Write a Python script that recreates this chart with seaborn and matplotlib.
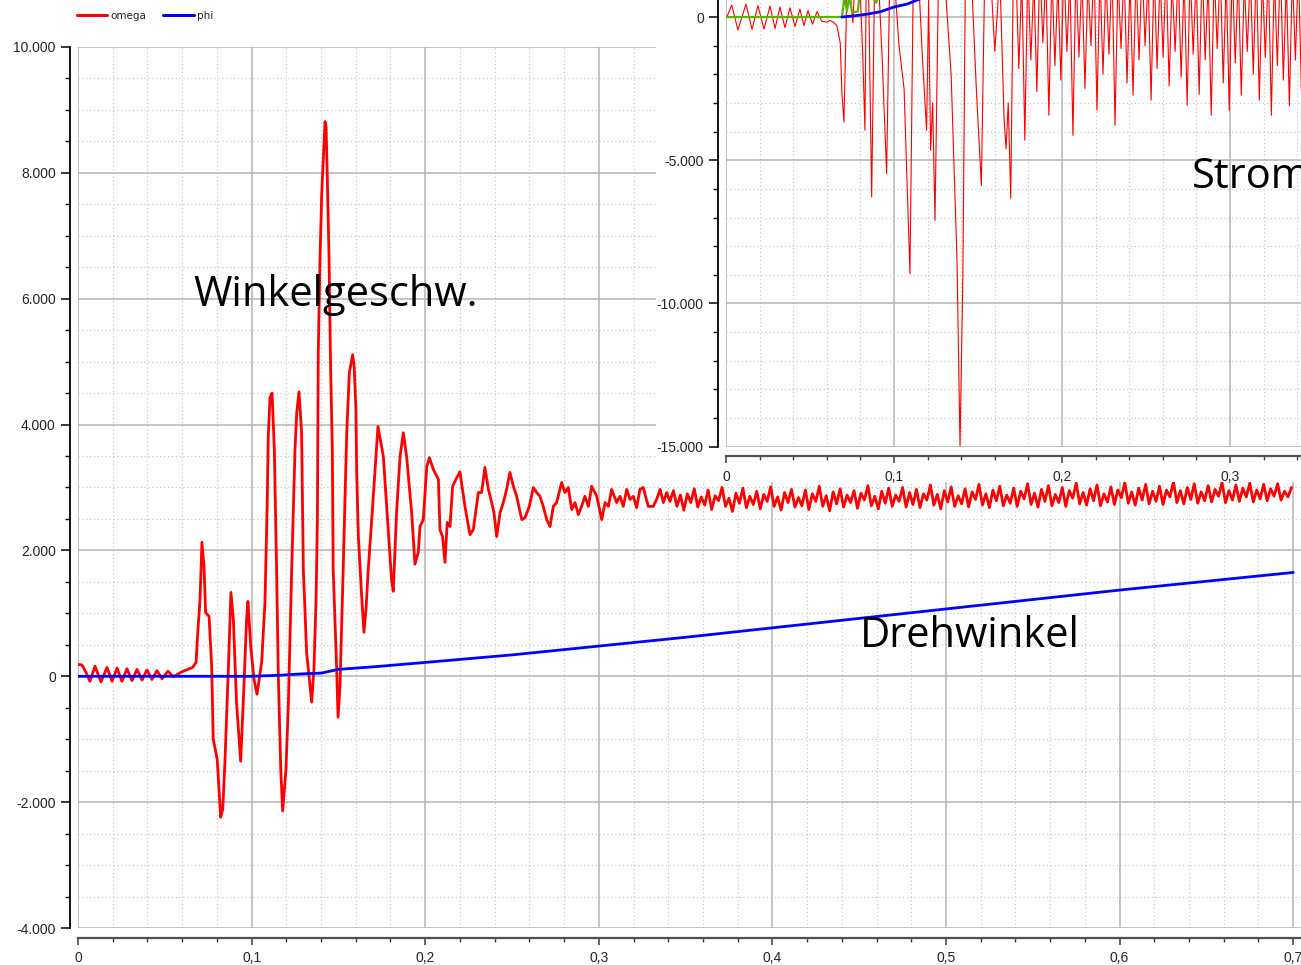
import matplotlib
matplotlib.use("Agg")
import matplotlib.pyplot as plt
import matplotlib.ticker as mticker
from matplotlib.lines import Line2D
from matplotlib.patches import Rectangle
import numpy as np
import pandas as pd
import seaborn as sns

# --- main chart: omega (angular velocity) and phi (angle) over time ---
omega_t = [0.0, 0.0023, 0.0046, 0.0069, 0.0098, 0.0132, 0.0167, 0.0196, 0.0225, 0.0253,
           0.0282, 0.0311, 0.034, 0.0369, 0.0397, 0.0426, 0.0455, 0.0484, 0.0518, 0.0547,
           0.056, 0.0605, 0.066, 0.068, 0.069, 0.0703, 0.0714, 0.0726, 0.0735, 0.0755,
           0.077, 0.0779, 0.0802, 0.0822, 0.0834, 0.0847, 0.0866, 0.0881, 0.0895, 0.0913,
           0.0937, 0.0952, 0.0971, 0.0979, 0.0995, 0.1014, 0.1031, 0.1058, 0.1077, 0.109,
           0.1096, 0.1106, 0.1118, 0.1131, 0.1144, 0.1154, 0.1168, 0.1179, 0.1198, 0.1212,
           0.1231, 0.125, 0.126, 0.1273, 0.1288, 0.1298, 0.1317, 0.1346, 0.1359, 0.1371,
           0.1379, 0.1384, 0.1394, 0.1404, 0.1423, 0.1429, 0.1436, 0.1446, 0.1455, 0.1465,
           0.147, 0.149, 0.1498, 0.1509, 0.1525, 0.1548, 0.1563, 0.1582, 0.1591, 0.1601,
           0.1605, 0.1615, 0.1634, 0.1647, 0.1659, 0.1672, 0.1692, 0.1711, 0.1728, 0.1759,
           0.1787, 0.1806, 0.1816, 0.1835, 0.1855, 0.1874, 0.1893, 0.1922, 0.1941, 0.196,
           0.197, 0.1989, 0.2009, 0.2024, 0.2047, 0.2076, 0.2085, 0.21, 0.2114, 0.2127,
           0.2143, 0.2158, 0.2177, 0.22, 0.2229, 0.2258, 0.2277, 0.2306, 0.2325, 0.2344,
           0.2364, 0.2383, 0.2396, 0.2412, 0.2431, 0.245, 0.2469, 0.2488, 0.2508, 0.2527,
           0.2556, 0.2575, 0.26, 0.2623, 0.2642, 0.2661, 0.268, 0.27, 0.2719, 0.2738,
           0.2757, 0.2786, 0.2805, 0.2824, 0.2844, 0.2863, 0.2882, 0.2901, 0.292, 0.294,
           0.2959, 0.2988, 0.3017, 0.3036, 0.3055, 0.3074, 0.3103, 0.3122, 0.3141, 0.3161,
           0.318, 0.3199, 0.3218, 0.3237, 0.3256, 0.3285, 0.3314, 0.3333, 0.3353, 0.3372,
           0.3391]
omega_v = [190, 180, 60, -80, 160, -90, 140, -80, 130, -80,
           120, -70, 110, -60, 100, -50, 90, -40, 80, 0,
           10, 80, 140, 220, 700, 1220, 2130, 1750, 1015, 950,
           160, -1000, -1320, -2240, -2110, -1320, 110, 1333, 900, -410,
           -1350, -410, 900, 1190, 475, -50, -285, 220, 1175, 2760,
           3810, 4430, 4500, 3600, 1700, 0, -1480, -2140, -1480, -410,
           1700, 3600, 4190, 4520, 3870, 1700, 380, -410, 110, 1175,
           2490, 5140, 6620, 7680, 8815, 8730, 7935, 6665, 4920, 3600,
           1700, 110, -650, -160, 1430, 3870, 4825, 5110, 4920, 4240,
           3285, 2220, 1270, 700, 1060, 1700, 2490, 3285, 3970, 3490,
           2330, 1540, 1350, 2600, 3490, 3870, 3490, 2600, 1780, 1970,
           2380, 2490, 3330, 3475, 3285, 3130, 2330, 2220, 1810, 2445,
           2380, 3020, 3130, 3250, 2700, 2250, 2330, 2920, 2920, 3320,
           2970, 2760, 2600, 2220, 2600, 2760, 2970, 3240, 3020, 2860,
           2490, 2520, 2700, 3000, 2920, 2860, 2700, 2490, 2380, 2700,
           2760, 3080, 2920, 3000, 2650, 2760, 2570, 2700, 2860, 2700,
           3020, 2860, 2490, 2760, 2700, 2970, 2760, 2860, 2700, 2970,
           2810, 2860, 2680, 2970, 3000, 2700, 2700, 2810, 2970, 2760,
           2920]
# steady ripple from t=0.341 to t=0.699, sampled every 2 ms
omega_tail_start, omega_tail_end = 0.341, 0.699
omega_tail_v = [2780, 2950, 2700, 2880, 2640, 2900, 2760, 2980, 2690, 2850,
                2720, 2960, 2650, 2870, 2790, 3000, 2700, 2830, 2620, 2910,
                2750, 2990, 2680, 2860, 2730, 2940, 2660, 2890, 2780, 3010,
                2700, 2850, 2640, 2920, 2760, 2970, 2690, 2840, 2710, 2960,
                2650, 2900, 2780, 3020, 2700, 2870, 2630, 2930, 2740, 2980,
                2690, 2880, 2760, 2950, 2670, 2910, 2800, 3030, 2710, 2860,
                2660, 2940, 2750, 2990, 2700, 2880, 2780, 3000, 2690, 2920,
                2730, 2970, 2680, 2900, 2800, 3040, 2720, 2890, 2660, 2950,
                2770, 3010, 2700, 2870, 2740, 2980, 2690, 2930, 2810, 3050,
                2720, 2900, 2680, 2960, 2790, 3020, 2710, 2880, 2750, 2990,
                2700, 2940, 2820, 3060, 2730, 2910, 2690, 2970, 2780, 3030,
                2710, 2890, 2760, 3000, 2700, 2950, 2830, 3070, 2740, 2920,
                2720, 2980, 2790, 3040, 2710, 2900, 2770, 3010, 2730, 2960,
                2840, 3080, 2750, 2930, 2720, 2990, 2800, 3050, 2740, 2940,
                2780, 3020, 2730, 2960, 2850, 3090, 2760, 2950, 2740, 3000,
                2810, 3060, 2750, 2930, 2790, 3030, 2770, 2970, 2860, 3080,
                2760, 2950, 2800, 3040, 2780, 2990, 2850, 3070, 2770, 2960,
                2820, 3050, 2790, 2980, 2860, 3060, 2800, 2940, 2850, 3000]

phi_t = [0.0, 0.1, 0.115, 0.13, 0.14, 0.145, 0.15, 0.17, 0.2, 0.25,
         0.3, 0.35, 0.4, 0.45, 0.5, 0.55, 0.6, 0.65, 0.7]
phi_v = [0, 0, 15, 40, 50, 80, 110, 150, 220, 340,
         480, 620, 770, 920, 1070, 1220, 1370, 1510, 1650]

# --- inset: motor current ("Strom") ---
strom_t = [0.0, 0.0006, 0.0034, 0.0071, 0.0119, 0.0155, 0.019, 0.0226, 0.0262, 0.0292,
           0.0321, 0.0351, 0.0381, 0.0411, 0.044, 0.0464, 0.0488, 0.0515, 0.0542, 0.057,
           0.06, 0.062, 0.064, 0.066, 0.068, 0.069, 0.0702, 0.0712, 0.0722, 0.074,
           0.0755, 0.077, 0.0795, 0.0815, 0.0827, 0.0835, 0.085, 0.0867, 0.0885, 0.091,
           0.093, 0.0956, 0.0975, 0.1, 0.103, 0.106, 0.1095, 0.1115, 0.1145, 0.117,
           0.1194, 0.1206, 0.1218, 0.123, 0.1244, 0.1265, 0.13, 0.134, 0.1375, 0.1393,
           0.141, 0.1425, 0.146, 0.149, 0.152, 0.154, 0.1575, 0.16, 0.163, 0.1655,
           0.1667, 0.168, 0.1695, 0.171]
strom_v = [0, 10, 420, -450, 450, -430, 400, -420, 380, -400,
           350, -370, 320, -330, 280, -300, 220, -250, 190, -150,
           -180, -120, -180, -300, -900, -2660, -3670, -1000, 1500, 800,
           -200, 1500, 1500, -1500, -3950, 1500, 500, -6290, 1500, 1000,
           -1500, -5460, 1500, 1500, -1000, -2500, -8960, 1500, 1500, -1500,
           -3950, 600, -4650, -3000, -7100, 1500, 1500, -2000, -8500, -14970,
           -9000, 1500, 1500, -2500, -5880, 1500, 1500, -1200, 1500, -3500,
           -4600, -3000, -6330, 1500]
strom_tail_start, strom_tail_end = 0.1725, 0.3425
strom_tail_v = [1800, -1800, 1400, -4300, 1700, -1500, 1300, -2600, 1900, -900,
                1500, -3430, 1600, -1700, 1200, -2200, 1800, -1200, 1400, -4130,
                1700, -1400, 1500, -2500, 1300, -1000, 1900, -3250, 1600, -2000,
                1400, -1300, 1800, -3780, 1500, -1100, 1700, -2300, 1300, -2730,
                1600, -1500, 1900, -1000, 1400, -2900, 1700, -1800, 1500, -1400,
                1800, -2400, 1300, -1200, 1600, -2100, 1400, -3080, 1700, -1300,
                1500, -2700, 1900, -1500, 1300, -3430, 1600, -1100, 1800, -2300,
                1400, -3250, 1700, -1600, 1500, -2730, 1300, -1200, 1600, -2000,
                1800, -2900, 1400, -1400, 1700, -3430, 1500, -1700, 1900, -2200,
                1300, -3100, 1600, -1500, 1800, -2600]
green_t = [0.0, 0.069, 0.0705, 0.072, 0.0735, 0.075, 0.077, 0.0785, 0.0795, 0.0815,
           0.0835, 0.0855, 0.0875, 0.0895, 0.091, 0.095, 0.2, 0.3425]
green_v = [0, 0, 700, 200, 750, 180, 180, 190, 800, 900,
           700, 800, 650, 500, 900, 1500, 2500, 3000]
blue_t = [0.069, 0.076, 0.084, 0.092, 0.1, 0.108, 0.114, 0.13, 0.2, 0.3425]
blue_v = [0, 40, 100, 185, 350, 455, 600, 900, 2000, 4000]

main_xticks = [0.0, 0.1, 0.2, 0.3, 0.4, 0.5, 0.6, 0.7]
main_xlabels = ['0', '0,1', '0,2', '0,3', '0,4', '0,5', '0,6', '0,7']
main_yticks = [-4000, -2000, 0, 2000, 4000, 6000, 8000, 10000]
main_ylabels = ['-4.000', '-2.000', '0', '2.000', '4.000', '6.000', '8.000', '10.000']
inset_xticks = [0.0, 0.1, 0.2, 0.3]
inset_xlabels = ['0', '0,1', '0,2', '0,3']
inset_yticks = [-15000, -10000, -5000, 0]
inset_ylabels = ['-15.000', '-10.000', '-5.000', '0']

sns.set_theme(style="white")
plt.rcParams['font.family'] = ['Liberation Sans', 'DejaVu Sans']

W, H = 1301, 965
fig = plt.figure(figsize=(W / 100, H / 100), dpi=100, facecolor='white')


def style_axes(ax, xticks, xlabels, yticks, ylabels, xminor, yminor):
    ax.set_xticks(xticks, labels=xlabels)
    ax.set_yticks(yticks, labels=ylabels)
    ax.xaxis.set_minor_locator(mticker.MultipleLocator(xminor))
    ax.yaxis.set_minor_locator(mticker.MultipleLocator(yminor))
    ax.set_axisbelow(True)
    ax.grid(which='major', color='#b4b4b4', lw=1.1, ls='-')
    ax.grid(which='minor', color='#c4c4c4', lw=0.8, ls=(0, (1, 2.5)))
    for s in ['top', 'right']:
        ax.spines[s].set_visible(False)
    ax.spines['left'].set_position(('outward', 6))
    ax.spines['bottom'].set_position(('outward', 7))
    ax.spines['left'].set_color('black')
    ax.spines['left'].set_linewidth(1.3)
    ax.spines['bottom'].set_color('#505050')
    ax.spines['bottom'].set_linewidth(1.6)
    ax.tick_params(axis='y', which='major', left=True, length=6.5, width=1.1, color='black', pad=3.5, labelsize=10)
    ax.tick_params(axis='y', which='minor', left=True, length=3.5, width=1.0, color='black')
    ax.tick_params(axis='x', which='major', bottom=True, length=5, width=1.1, color='#404040', pad=4.5, labelsize=10)
    ax.tick_params(axis='x', which='minor', bottom=True, length=2.8, width=1.0, color='#404040')
    ax.set_xlabel('')
    ax.set_ylabel('')


# main axes
ax = fig.add_axes([78 / W, 37 / H, (W - 78) / W, 881 / H], zorder=0)
ax.set_facecolor('white')
df_omega = pd.DataFrame({'t': omega_t + list(np.linspace(omega_tail_start, omega_tail_end, len(omega_tail_v))),
                         'omega': omega_v + omega_tail_v})
df_phi = pd.DataFrame({'t': phi_t, 'phi': phi_v})
sns.lineplot(data=df_omega, x='t', y='omega', ax=ax, color='#ff0000', lw=2.0, estimator=None, sort=False)
sns.lineplot(data=df_phi, x='t', y='phi', ax=ax, color='#0000ff', lw=2.0, estimator=None, sort=False)
ax.set_xlim(0, (W - 78) / 1736)
ax.set_ylim(-4000, 10000)
style_axes(ax, main_xticks, main_xlabels, main_yticks, main_ylabels, 0.02, 500)

ax.text(0.0662, 6063, 'Winkelgeschw.', fontsize=30, family='Open Sans', va='center', ha='left', color='black')
ax.text(0.4505, 635, 'Drehwinkel', fontsize=30, family='Open Sans', va='center', ha='left', color='black')

handles = [Line2D([], [], color='#ff0000', lw=2.2), Line2D([], [], color='#0000ff', lw=2.2)]
fig.legend(handles, ['omega', 'phi'], loc='center left', bbox_to_anchor=(77 / W, 1 - 16 / H),
           ncol=2, frameon=False, borderpad=0, borderaxespad=0, handlelength=2.9,
           handletextpad=0.35, columnspacing=1.6, prop={'family': 'DejaVu Sans', 'size': 7.5})

# white panel behind the inset
fig.add_artist(Rectangle((656 / W, (H - 482) / H), 1, 1, transform=fig.transFigure,
                         facecolor='white', edgecolor='none', zorder=1))

# inset axes
ax2 = fig.add_axes([726 / W, (H - 446.7) / H, (W - 726) / W, 446.7 / H], zorder=2)
ax2.set_facecolor('none')
df_strom = pd.DataFrame({'t': strom_t + list(np.linspace(strom_tail_start, strom_tail_end, len(strom_tail_v))),
                         'i': strom_v + strom_tail_v})
df_green = pd.DataFrame({'t': green_t, 'v': green_v})
df_blue = pd.DataFrame({'t': blue_t, 'v': blue_v})
sns.lineplot(data=df_strom, x='t', y='i', ax=ax2, color='#ff0000', lw=0.8, estimator=None, sort=False)
sns.lineplot(data=df_green, x='t', y='v', ax=ax2, color='#5cb400', lw=1.6, estimator=None, sort=False)
sns.lineplot(data=df_blue, x='t', y='v', ax=ax2, color='#0000ff', lw=2.0, estimator=None, sort=False)
ax2.set_xlim(0, (W - 726) / 1680)
ax2.set_ylim(-15000, 17 * 5000 / 143)
style_axes(ax2, inset_xticks, inset_xlabels, inset_yticks, inset_ylabels, 0.02, 1000)
ax2.text(0.2774, -5595, 'Strom', fontsize=30, family='Open Sans', va='center', ha='left', color='black')

fig.savefig('out.png', dpi=100, facecolor='white')
